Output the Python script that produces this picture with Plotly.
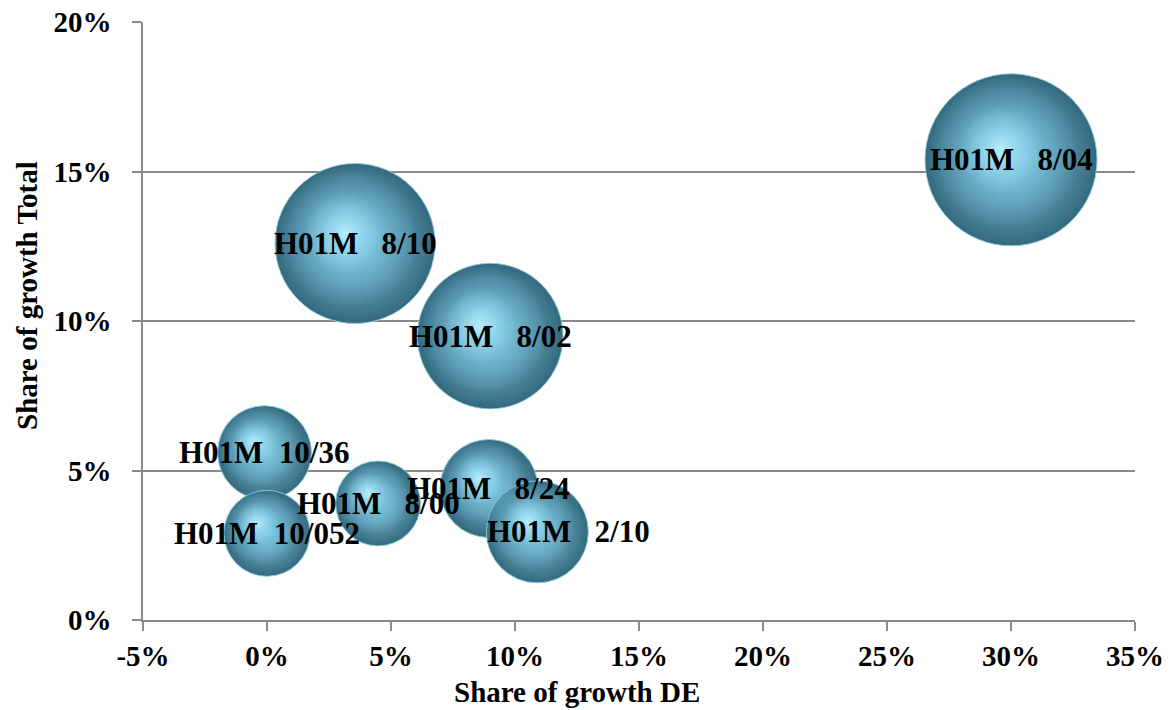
import plotly.graph_objects as go

# ---- data ----
labels = ["H01M   8/04", "H01M   8/10", "H01M   8/02", "H01M  10/36",
          "H01M   8/24", "H01M   2/10", "H01M   8/00", "H01M  10/052"]
share_de = [0.300, 0.0355, 0.090, -0.001, 0.0895, 0.109, 0.0448, 0.000]
share_total = [0.154, 0.126, 0.095, 0.056, 0.044, 0.0295, 0.039, 0.029]
bubble_size = [7.4, 6.4, 5.3, 2.2, 2.4, 2.6, 1.8, 1.85]
x_tick_vals = [-0.05, 0.0, 0.05, 0.10, 0.15, 0.20, 0.25, 0.30, 0.35]
x_tick_text = ["-5%", "0%", "5%", "10%", "15%", "20%", "25%", "30%", "35%"]
y_tick_vals = [0.0, 0.05, 0.10, 0.15, 0.20]
y_tick_text = ["0%", "5%", "10%", "15%", "20%"]
x_title = "Share of growth DE"
y_title = "Share of growth Total"

# ---- layout geometry (pixels, relative to the plot div) ----
W, H = 1175, 710
OFF = 8                       # page body offset of the div
PLOT_W, PLOT_H = 992, 598
SHIFT_MID, SHIFT_HI = 7, 10
L, T = 135 - SHIFT_HI, 14 - SHIFT_HI
PW = PLOT_W + SHIFT_HI
PH = PLOT_H + SHIFT_HI
R = W - L - PW
B = H - T - PH
Y_RANGE = [0, 0.2001]
X_RANGE = [-0.05, 0.35]

def xdom(shift):
    a = (SHIFT_HI - shift) / PW
    return [a, a + PLOT_W / PW]

def ydom(shift):
    a = shift / PH
    return [a, a + PLOT_H / PH]

def paper_x(px):
    return (px - OFF - L) / PW

def paper_y(py):
    return (H - B - (py - OFF)) / PH

SIZEREF = 0.0005
FONT = "Liberation Serif"
AX_COL = "#898989"

fig = go.Figure()

# base bubbles (dark rim)
fig.add_trace(go.Scatter(
    x=share_de, y=share_total, mode="markers", xaxis="x", yaxis="y",
    marker=dict(size=bubble_size, sizemode="area", sizeref=SIZEREF,
                color="#33697e", opacity=1,
                gradient=dict(type="radial", color="#8acde5"),
                line=dict(width=1, color="rgba(145,205,226,0.9)")),
    hoverinfo="skip", showlegend=False))

# body layer (shifted up-left, smaller, fading out at its rim)
fig.add_trace(go.Scatter(
    x=share_de, y=share_total, mode="markers", xaxis="x2", yaxis="y2",
    marker=dict(size=bubble_size, sizemode="area", sizeref=SIZEREF / 0.88 ** 2,
                color="rgba(112,188,216,0)", opacity=1,
                gradient=dict(type="radial", color="rgba(118,194,222,1)"),
                line=dict(width=0)),
    hoverinfo="skip", showlegend=False))

# highlight layer
fig.add_trace(go.Scatter(
    x=share_de, y=share_total, mode="markers", xaxis="x3", yaxis="y3",
    marker=dict(size=bubble_size, sizemode="area", sizeref=SIZEREF / 0.5 ** 2,
                color="rgba(150,220,242,0)", opacity=1,
                gradient=dict(type="radial", color="rgba(190,242,255,0.9)"),
                line=dict(width=0)),
    hoverinfo="skip", showlegend=False))

# labels
for lab, xv, yv in zip(labels, share_de, share_total):
    fig.add_annotation(
        x=xv, y=yv, xref="x", yref="y", showarrow=False,
        text="<b>" + lab.replace(" ", "\u00a0") + "</b>",
        xanchor="center", yanchor="middle",
        xshift=31 if lab.endswith("2/10") else 0,
        font=dict(family=FONT, size=31, color="black"))

# axis titles
fig.add_annotation(
    x=paper_x(577), y=paper_y(692), xref="paper", yref="paper",
    showarrow=False, text="<b>" + x_title + "</b>",
    xanchor="center", yanchor="middle",
    font=dict(family=FONT, size=29, color="black"))
fig.add_annotation(
    x=paper_x(27), y=paper_y(296), xref="paper", yref="paper",
    showarrow=False, text="<b>" + y_title + "</b>", textangle=-90,
    xanchor="center", yanchor="middle",
    font=dict(family=FONT, size=29, color="black"))

hidden = dict(visible=False, showgrid=False, zeroline=False)
fig.update_layout(
    width=W, height=H,
    margin=dict(l=L, r=R, t=T, b=B, autoexpand=False),
    paper_bgcolor="white", plot_bgcolor="rgba(0,0,0,0)",
    showlegend=False,
    xaxis=dict(domain=xdom(0), anchor="y", range=X_RANGE,
               tickvals=x_tick_vals, ticktext=x_tick_text,
               showgrid=False, zeroline=False,
               showline=True, linecolor=AX_COL, linewidth=1.5,
               ticks="outside", ticklen=9, tickwidth=1.5, tickcolor=AX_COL,
               ticklabelstandoff=0, ticklabeloverflow="allow",
               tickfont=dict(family=FONT, size=29, color="black", weight="bold")),
    yaxis=dict(domain=ydom(0), anchor="x", range=Y_RANGE,
               tickvals=y_tick_vals, ticktext=y_tick_text,
               showgrid=True, gridcolor=AX_COL, gridwidth=1.5,
               zeroline=False,
               showline=True, linecolor=AX_COL, linewidth=1.5,
               ticks="outside", ticklen=9, tickwidth=1.5, tickcolor=AX_COL,
               ticklabelstandoff=15, ticklabeloverflow="allow",
               tickfont=dict(family=FONT, size=29, color="black", weight="bold")),
    xaxis2=dict(domain=xdom(SHIFT_MID), anchor="y2", range=X_RANGE, **hidden),
    yaxis2=dict(domain=ydom(SHIFT_MID), anchor="x2", range=Y_RANGE, **hidden),
    xaxis3=dict(domain=xdom(SHIFT_HI), anchor="y3", range=X_RANGE, **hidden),
    yaxis3=dict(domain=ydom(SHIFT_HI), anchor="x3", range=Y_RANGE, **hidden),
)

fig.write_html("out.html")
